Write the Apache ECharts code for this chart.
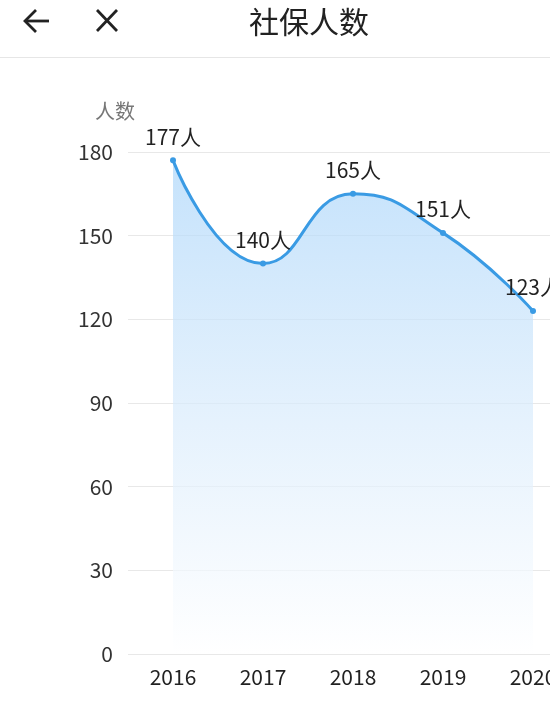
<!DOCTYPE html>
<html>
<head>
<meta charset="utf-8">
<script src="https://cdn.jsdelivr.net/npm/echarts@6/dist/echarts.min.js"></script>
<style>
html,body{margin:0;padding:0;background:#fff;overflow:hidden;width:550px;height:724px;}
#c{width:600px;height:724px;}
</style>
</head>
<body>
<div id="c"></div>
<script>
var categories = ['2016', '2017', '2018', '2019', '2020'];
var values = [177, 140, 165, 151, 123];
var yTicks = [0, 30, 60, 90, 120, 150, 180];
var titleText = '社保人数';
var yName = '人数';
var unit = '人';

var chart = echarts.init(document.getElementById('c'), null, {renderer: 'canvas'});
var font = "'Noto Sans CJK SC', 'Noto Sans', sans-serif";
chart.setOption({
  backgroundColor: '#fff',
  animation: false,
  textStyle: {fontFamily: font},
  graphic: [
    {type: 'polyline', shape: {points: [[25, 21], [49, 21]]}, style: {stroke: '#222', lineWidth: 2.8, fill: null}},
    {type: 'polyline', shape: {points: [[36, 10], [25, 21], [36, 32]]}, style: {stroke: '#222', lineWidth: 2.8, fill: null, lineJoin: 'miter'}},
    {type: 'line', shape: {x1: 97, y1: 10, x2: 117, y2: 31}, style: {stroke: '#222', lineWidth: 2.8}},
    {type: 'line', shape: {x1: 117, y1: 10, x2: 97, y2: 31}, style: {stroke: '#222', lineWidth: 2.8}},
    {type: 'text', x: 309, y: 22, style: {text: titleText, fill: '#222', font: "30px 'Noto Sans CJK SC', sans-serif", textAlign: 'center', textVerticalAlign: 'middle'}},
    {type: 'rect', shape: {x: 0, y: 57, width: 600, height: 1}, style: {fill: '#e6e6e6'}}
  ],
  grid: {left: 128, right: 22, top: 152, bottom: 70, containLabel: false},
  xAxis: {
    type: 'category',
    data: categories,
    boundaryGap: true,
    axisLine: {show: false},
    axisTick: {show: false},
    axisLabel: {color: '#222', fontSize: 21, margin: 13, fontFamily: font}
  },
  yAxis: {
    type: 'value',
    min: yTicks[0],
    max: yTicks[yTicks.length - 1],
    interval: 30,
    name: yName,
    nameLocation: 'end',
    nameGap: 31,
    nameTextStyle: {color: '#777', fontSize: 20, align: 'center', padding: [0, 0, 0, -26], fontFamily: font},
    axisLine: {show: false},
    axisTick: {show: false},
    axisLabel: {color: '#333', fontSize: 21, margin: 15, fontFamily: font},
    splitLine: {lineStyle: {color: '#e8e8e8', width: 1}}
  },
  series: [{
    type: 'line',
    data: values,
    smooth: true,
    symbol: 'circle',
    symbolSize: 6,
    showSymbol: true,
    lineStyle: {color: '#3a9be4', width: 3},
    itemStyle: {color: '#3a9be4'},
    label: {show: true, position: 'top', distance: 10, color: '#222', fontSize: 21, fontFamily: font,
      formatter: function (p) { return p.value + unit; }},
    areaStyle: {
      color: new echarts.graphic.LinearGradient(0, 0, 0, 1, [
        {offset: 0, color: '#acd6fa'},
        {offset: 0.5, color: '#d8ebfc'},
        {offset: 1, color: '#ffffff'}
      ])
    }
  }]
});
</script>
</body>
</html>
